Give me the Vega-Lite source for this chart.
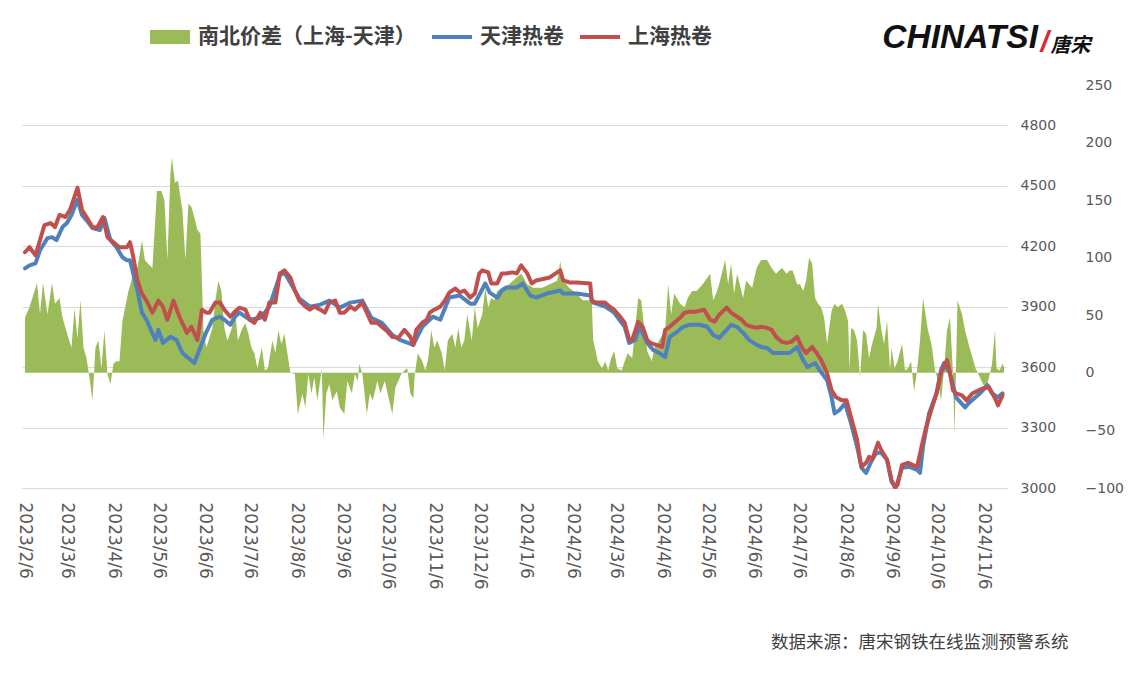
{
"$schema": "https://vega.github.io/schema/vega-lite/v6.json",
"width": 985,
"height": 403,
"autosize": {"type": "none"},
"padding": {"left": 22, "top": 85, "right": 122, "bottom": 188},
"background": "white",
"config": {"view": {"stroke": null}},
"title": {"text": "CHINATSI", "anchor": "end", "orient": "top", "frame": "group", "dx": 31, "dy": 64, "offset": 0, "baseline": "alphabetic", "font": "Liberation Sans", "fontSize": 33.5, "fontWeight": "bold", "fontStyle": "italic", "color": "#111111"},
"datasets": {
"diff": [
{"date":"2023-02-06","diff":48},{"date":"2023-02-09","diff":57},{"date":"2023-02-14","diff":78},{"date":"2023-02-16","diff":51},{"date":"2023-02-18","diff":78},{"date":"2023-02-21","diff":51},{"date":"2023-02-24","diff":78},{"date":"2023-02-26","diff":60},{"date":"2023-03-01","diff":65},{"date":"2023-03-03","diff":48},{"date":"2023-03-07","diff":30},{"date":"2023-03-09","diff":22},{"date":"2023-03-11","diff":56},{"date":"2023-03-13","diff":30},{"date":"2023-03-15","diff":63},{"date":"2023-03-17","diff":22},{"date":"2023-03-19","diff":13},{"date":"2023-03-21","diff":-4},{"date":"2023-03-23","diff":-24},{"date":"2023-03-25","diff":22},{"date":"2023-03-27","diff":28},{"date":"2023-03-29","diff":4},{"date":"2023-03-31","diff":37},{"date":"2023-04-02","diff":-1},{"date":"2023-04-04","diff":-10},{"date":"2023-04-06","diff":8},{"date":"2023-04-08","diff":10},{"date":"2023-04-10","diff":10},{"date":"2023-04-12","diff":45},{"date":"2023-04-16","diff":71},{"date":"2023-04-18","diff":80},{"date":"2023-04-20","diff":98},{"date":"2023-04-22","diff":91},{"date":"2023-04-25","diff":115},{"date":"2023-04-27","diff":98},{"date":"2023-04-29","diff":95},{"date":"2023-05-02","diff":91},{"date":"2023-05-05","diff":158},{"date":"2023-05-08","diff":158},{"date":"2023-05-10","diff":150},{"date":"2023-05-12","diff":98},{"date":"2023-05-14","diff":173},{"date":"2023-05-15","diff":187},{"date":"2023-05-17","diff":165},{"date":"2023-05-19","diff":167},{"date":"2023-05-22","diff":141},{"date":"2023-05-24","diff":98},{"date":"2023-05-26","diff":147},{"date":"2023-05-28","diff":144},{"date":"2023-05-30","diff":135},{"date":"2023-06-01","diff":124},{"date":"2023-06-03","diff":121},{"date":"2023-06-04","diff":80},{"date":"2023-06-05","diff":37},{"date":"2023-06-07","diff":22},{"date":"2023-06-11","diff":39},{"date":"2023-06-13","diff":63},{"date":"2023-06-15","diff":80},{"date":"2023-06-17","diff":71},{"date":"2023-06-19","diff":39},{"date":"2023-06-21","diff":28},{"date":"2023-06-24","diff":39},{"date":"2023-06-26","diff":57},{"date":"2023-06-28","diff":28},{"date":"2023-07-01","diff":39},{"date":"2023-07-03","diff":43},{"date":"2023-07-05","diff":34},{"date":"2023-07-07","diff":22},{"date":"2023-07-09","diff":17},{"date":"2023-07-11","diff":4},{"date":"2023-07-14","diff":22},{"date":"2023-07-16","diff":2},{"date":"2023-07-18","diff":4},{"date":"2023-07-21","diff":28},{"date":"2023-07-23","diff":17},{"date":"2023-07-25","diff":37},{"date":"2023-07-27","diff":25},{"date":"2023-07-29","diff":34},{"date":"2023-07-31","diff":17},{"date":"2023-08-02","diff":0},{"date":"2023-08-05","diff":-1},{"date":"2023-08-07","diff":-36},{"date":"2023-08-10","diff":-18},{"date":"2023-08-12","diff":-30},{"date":"2023-08-14","diff":-1},{"date":"2023-08-16","diff":-18},{"date":"2023-08-18","diff":-4},{"date":"2023-08-20","diff":-24},{"date":"2023-08-23","diff":4},{"date":"2023-08-24","diff":-57},{"date":"2023-08-26","diff":-18},{"date":"2023-08-28","diff":-10},{"date":"2023-08-30","diff":-24},{"date":"2023-09-02","diff":-16},{"date":"2023-09-04","diff":-30},{"date":"2023-09-07","diff":-36},{"date":"2023-09-09","diff":-7},{"date":"2023-09-12","diff":-18},{"date":"2023-09-14","diff":-1},{"date":"2023-09-16","diff":-7},{"date":"2023-09-17","diff":8},{"date":"2023-09-19","diff":-1},{"date":"2023-09-22","diff":-36},{"date":"2023-09-24","diff":-18},{"date":"2023-09-26","diff":-24},{"date":"2023-09-29","diff":-7},{"date":"2023-10-01","diff":-18},{"date":"2023-10-04","diff":-7},{"date":"2023-10-09","diff":-36},{"date":"2023-10-11","diff":-13},{"date":"2023-10-13","diff":-7},{"date":"2023-10-15","diff":-1},{"date":"2023-10-17","diff":2},{"date":"2023-10-19","diff":4},{"date":"2023-10-21","diff":-18},{"date":"2023-10-23","diff":-22},{"date":"2023-10-24","diff":-1},{"date":"2023-10-26","diff":17},{"date":"2023-10-29","diff":10},{"date":"2023-10-31","diff":2},{"date":"2023-11-02","diff":13},{"date":"2023-11-04","diff":37},{"date":"2023-11-06","diff":22},{"date":"2023-11-08","diff":28},{"date":"2023-11-11","diff":17},{"date":"2023-11-13","diff":2},{"date":"2023-11-15","diff":28},{"date":"2023-11-18","diff":34},{"date":"2023-11-20","diff":22},{"date":"2023-11-22","diff":39},{"date":"2023-11-24","diff":22},{"date":"2023-11-26","diff":28},{"date":"2023-11-28","diff":51},{"date":"2023-12-01","diff":28},{"date":"2023-12-03","diff":57},{"date":"2023-12-05","diff":39},{"date":"2023-12-08","diff":51},{"date":"2023-12-10","diff":74},{"date":"2023-12-12","diff":57},{"date":"2023-12-14","diff":65},{"date":"2023-12-16","diff":63},{"date":"2023-12-18","diff":71},{"date":"2023-12-22","diff":74},{"date":"2023-12-26","diff":77},{"date":"2023-12-31","diff":83},{"date":"2024-01-03","diff":86},{"date":"2024-01-07","diff":77},{"date":"2024-01-11","diff":74},{"date":"2024-01-17","diff":74},{"date":"2024-01-22","diff":77},{"date":"2024-01-27","diff":80},{"date":"2024-01-29","diff":97},{"date":"2024-01-31","diff":80},{"date":"2024-02-04","diff":74},{"date":"2024-02-09","diff":69},{"date":"2024-02-13","diff":63},{"date":"2024-02-18","diff":63},{"date":"2024-02-19","diff":63},{"date":"2024-02-20","diff":28},{"date":"2024-02-22","diff":17},{"date":"2024-02-23","diff":10},{"date":"2024-02-26","diff":4},{"date":"2024-02-28","diff":10},{"date":"2024-03-01","diff":2},{"date":"2024-03-03","diff":13},{"date":"2024-03-05","diff":19},{"date":"2024-03-07","diff":4},{"date":"2024-03-10","diff":2},{"date":"2024-03-12","diff":10},{"date":"2024-03-14","diff":17},{"date":"2024-03-17","diff":13},{"date":"2024-03-19","diff":39},{"date":"2024-03-21","diff":65},{"date":"2024-03-23","diff":63},{"date":"2024-03-25","diff":39},{"date":"2024-03-27","diff":19},{"date":"2024-03-30","diff":10},{"date":"2024-04-01","diff":22},{"date":"2024-04-04","diff":28},{"date":"2024-04-08","diff":37},{"date":"2024-04-10","diff":77},{"date":"2024-04-12","diff":51},{"date":"2024-04-14","diff":69},{"date":"2024-04-18","diff":60},{"date":"2024-04-21","diff":57},{"date":"2024-04-23","diff":65},{"date":"2024-04-26","diff":71},{"date":"2024-04-29","diff":71},{"date":"2024-05-03","diff":77},{"date":"2024-05-08","diff":86},{"date":"2024-05-10","diff":63},{"date":"2024-05-12","diff":69},{"date":"2024-05-14","diff":77},{"date":"2024-05-18","diff":98},{"date":"2024-05-20","diff":77},{"date":"2024-05-22","diff":95},{"date":"2024-05-24","diff":69},{"date":"2024-05-26","diff":86},{"date":"2024-05-30","diff":65},{"date":"2024-06-01","diff":80},{"date":"2024-06-05","diff":74},{"date":"2024-06-08","diff":91},{"date":"2024-06-11","diff":98},{"date":"2024-06-15","diff":98},{"date":"2024-06-18","diff":91},{"date":"2024-06-21","diff":86},{"date":"2024-06-23","diff":89},{"date":"2024-06-25","diff":91},{"date":"2024-06-28","diff":86},{"date":"2024-06-30","diff":89},{"date":"2024-07-02","diff":89},{"date":"2024-07-05","diff":77},{"date":"2024-07-07","diff":77},{"date":"2024-07-09","diff":71},{"date":"2024-07-11","diff":80},{"date":"2024-07-13","diff":100},{"date":"2024-07-15","diff":95},{"date":"2024-07-17","diff":65},{"date":"2024-07-19","diff":60},{"date":"2024-07-21","diff":57},{"date":"2024-07-23","diff":48},{"date":"2024-07-25","diff":25},{"date":"2024-07-28","diff":54},{"date":"2024-07-30","diff":60},{"date":"2024-08-01","diff":57},{"date":"2024-08-04","diff":60},{"date":"2024-08-06","diff":54},{"date":"2024-08-08","diff":45},{"date":"2024-08-09","diff":2},{"date":"2024-08-10","diff":39},{"date":"2024-08-12","diff":37},{"date":"2024-08-14","diff":28},{"date":"2024-08-16","diff":-4},{"date":"2024-08-18","diff":37},{"date":"2024-08-20","diff":34},{"date":"2024-08-22","diff":13},{"date":"2024-08-24","diff":25},{"date":"2024-08-27","diff":39},{"date":"2024-08-28","diff":60},{"date":"2024-08-30","diff":39},{"date":"2024-09-01","diff":25},{"date":"2024-09-03","diff":45},{"date":"2024-09-05","diff":2},{"date":"2024-09-06","diff":22},{"date":"2024-09-08","diff":4},{"date":"2024-09-10","diff":10},{"date":"2024-09-13","diff":25},{"date":"2024-09-15","diff":2},{"date":"2024-09-17","diff":4},{"date":"2024-09-19","diff":10},{"date":"2024-09-21","diff":-16},{"date":"2024-09-23","diff":2},{"date":"2024-09-25","diff":28},{"date":"2024-09-27","diff":65},{"date":"2024-09-30","diff":39},{"date":"2024-10-03","diff":22},{"date":"2024-10-05","diff":2},{"date":"2024-10-07","diff":-7},{"date":"2024-10-09","diff":-24},{"date":"2024-10-11","diff":2},{"date":"2024-10-13","diff":37},{"date":"2024-10-15","diff":48},{"date":"2024-10-17","diff":-1},{"date":"2024-10-18","diff":-53},{"date":"2024-10-20","diff":63},{"date":"2024-10-23","diff":51},{"date":"2024-10-25","diff":37},{"date":"2024-10-28","diff":22},{"date":"2024-11-01","diff":4},{"date":"2024-11-04","diff":-4},{"date":"2024-11-06","diff":-10},{"date":"2024-11-08","diff":-13},{"date":"2024-11-10","diff":-4},{"date":"2024-11-12","diff":8},{"date":"2024-11-14","diff":37},{"date":"2024-11-15","diff":4},{"date":"2024-11-17","diff":2},{"date":"2024-11-19","diff":8},{"date":"2024-11-20","diff":5}
],
"tianjin": [
{"date":"2023-02-06","price":4090},{"date":"2023-02-09","price":4105},{"date":"2023-02-13","price":4115},{"date":"2023-02-16","price":4180},{"date":"2023-02-21","price":4240},{"date":"2023-02-24","price":4245},{"date":"2023-02-27","price":4230},{"date":"2023-03-03","price":4295},{"date":"2023-03-06","price":4315},{"date":"2023-03-09","price":4355},{"date":"2023-03-13","price":4430},{"date":"2023-03-16","price":4355},{"date":"2023-03-20","price":4320},{"date":"2023-03-23","price":4290},{"date":"2023-03-28","price":4280},{"date":"2023-03-31","price":4340},{"date":"2023-04-04","price":4230},{"date":"2023-04-08","price":4195},{"date":"2023-04-12","price":4145},{"date":"2023-04-15","price":4130},{"date":"2023-04-17","price":4130},{"date":"2023-04-22","price":3980},{"date":"2023-04-25","price":3870},{"date":"2023-04-28","price":3835},{"date":"2023-05-04","price":3735},{"date":"2023-05-06","price":3785},{"date":"2023-05-09","price":3720},{"date":"2023-05-14","price":3750},{"date":"2023-05-18","price":3735},{"date":"2023-05-22","price":3670},{"date":"2023-05-26","price":3645},{"date":"2023-05-30","price":3620},{"date":"2023-06-03","price":3700},{"date":"2023-06-07","price":3775},{"date":"2023-06-11","price":3835},{"date":"2023-06-16","price":3850},{"date":"2023-06-19","price":3835},{"date":"2023-06-23","price":3810},{"date":"2023-06-26","price":3850},{"date":"2023-06-29","price":3870},{"date":"2023-07-06","price":3835},{"date":"2023-07-13","price":3845},{"date":"2023-07-19","price":3900},{"date":"2023-07-26","price":4055},{"date":"2023-07-29","price":4070},{"date":"2023-08-05","price":3980},{"date":"2023-08-08","price":3940},{"date":"2023-08-15","price":3900},{"date":"2023-08-22","price":3910},{"date":"2023-08-28","price":3930},{"date":"2023-09-04","price":3895},{"date":"2023-09-11","price":3920},{"date":"2023-09-19","price":3930},{"date":"2023-09-25","price":3845},{"date":"2023-10-02","price":3820},{"date":"2023-10-09","price":3760},{"date":"2023-10-14","price":3735},{"date":"2023-10-23","price":3710},{"date":"2023-10-29","price":3800},{"date":"2023-11-05","price":3850},{"date":"2023-11-10","price":3835},{"date":"2023-11-16","price":3945},{"date":"2023-11-23","price":3955},{"date":"2023-11-30","price":3915},{"date":"2023-12-03","price":3915},{"date":"2023-12-10","price":4015},{"date":"2023-12-13","price":3970},{"date":"2023-12-18","price":3945},{"date":"2023-12-21","price":3980},{"date":"2023-12-24","price":3995},{"date":"2023-12-31","price":3995},{"date":"2024-01-04","price":4015},{"date":"2024-01-09","price":3955},{"date":"2024-01-13","price":3945},{"date":"2024-01-20","price":3965},{"date":"2024-01-29","price":3980},{"date":"2024-01-31","price":3965},{"date":"2024-02-09","price":3965},{"date":"2024-02-18","price":3955},{"date":"2024-02-20","price":3920},{"date":"2024-02-28","price":3900},{"date":"2024-03-05","price":3870},{"date":"2024-03-12","price":3800},{"date":"2024-03-15","price":3720},{"date":"2024-03-19","price":3735},{"date":"2024-03-22","price":3800},{"date":"2024-03-27","price":3720},{"date":"2024-03-31","price":3685},{"date":"2024-04-04","price":3670},{"date":"2024-04-08","price":3650},{"date":"2024-04-11","price":3750},{"date":"2024-04-16","price":3775},{"date":"2024-04-20","price":3800},{"date":"2024-04-24","price":3810},{"date":"2024-05-01","price":3810},{"date":"2024-05-06","price":3800},{"date":"2024-05-10","price":3760},{"date":"2024-05-14","price":3745},{"date":"2024-05-19","price":3785},{"date":"2024-05-22","price":3810},{"date":"2024-05-26","price":3800},{"date":"2024-05-30","price":3770},{"date":"2024-06-03","price":3735},{"date":"2024-06-08","price":3710},{"date":"2024-06-11","price":3700},{"date":"2024-06-15","price":3695},{"date":"2024-06-19","price":3670},{"date":"2024-06-23","price":3670},{"date":"2024-06-30","price":3670},{"date":"2024-07-05","price":3700},{"date":"2024-07-09","price":3635},{"date":"2024-07-12","price":3600},{"date":"2024-07-17","price":3620},{"date":"2024-07-20","price":3585},{"date":"2024-07-25","price":3535},{"date":"2024-07-28","price":3450},{"date":"2024-07-30","price":3370},{"date":"2024-08-02","price":3385},{"date":"2024-08-06","price":3420},{"date":"2024-08-10","price":3320},{"date":"2024-08-14","price":3205},{"date":"2024-08-17","price":3100},{"date":"2024-08-20","price":3075},{"date":"2024-08-24","price":3140},{"date":"2024-08-27","price":3175},{"date":"2024-08-30","price":3175},{"date":"2024-09-03","price":3140},{"date":"2024-09-06","price":3030},{"date":"2024-09-09","price":3005},{"date":"2024-09-13","price":3100},{"date":"2024-09-18","price":3105},{"date":"2024-09-23","price":3090},{"date":"2024-09-25","price":3075},{"date":"2024-09-27","price":3205},{"date":"2024-10-01","price":3370},{"date":"2024-10-06","price":3470},{"date":"2024-10-09","price":3585},{"date":"2024-10-11","price":3620},{"date":"2024-10-15","price":3570},{"date":"2024-10-19","price":3450},{"date":"2024-10-25","price":3400},{"date":"2024-10-28","price":3425},{"date":"2024-11-04","price":3470},{"date":"2024-11-09","price":3510},{"date":"2024-11-12","price":3470},{"date":"2024-11-16","price":3450},{"date":"2024-11-19","price":3470}
],
"shanghai": [
{"date":"2023-02-06","price":4170},{"date":"2023-02-09","price":4195},{"date":"2023-02-13","price":4155},{"date":"2023-02-16","price":4230},{"date":"2023-02-19","price":4305},{"date":"2023-02-23","price":4315},{"date":"2023-02-26","price":4295},{"date":"2023-03-01","price":4355},{"date":"2023-03-05","price":4345},{"date":"2023-03-08","price":4380},{"date":"2023-03-11","price":4445},{"date":"2023-03-13","price":4490},{"date":"2023-03-16","price":4380},{"date":"2023-03-19","price":4345},{"date":"2023-03-23","price":4295},{"date":"2023-03-26","price":4290},{"date":"2023-03-30","price":4345},{"date":"2023-04-02","price":4245},{"date":"2023-04-06","price":4220},{"date":"2023-04-10","price":4195},{"date":"2023-04-15","price":4195},{"date":"2023-04-17","price":4220},{"date":"2023-04-19","price":4155},{"date":"2023-04-22","price":4030},{"date":"2023-04-25","price":3965},{"date":"2023-04-28","price":3930},{"date":"2023-05-02","price":3870},{"date":"2023-05-06","price":3930},{"date":"2023-05-09","price":3900},{"date":"2023-05-12","price":3835},{"date":"2023-05-16","price":3930},{"date":"2023-05-20","price":3850},{"date":"2023-05-25","price":3770},{"date":"2023-05-28","price":3800},{"date":"2023-06-01","price":3735},{"date":"2023-06-04","price":3885},{"date":"2023-06-07","price":3870},{"date":"2023-06-09","price":3870},{"date":"2023-06-13","price":3920},{"date":"2023-06-16","price":3920},{"date":"2023-06-19","price":3885},{"date":"2023-06-23","price":3850},{"date":"2023-06-26","price":3875},{"date":"2023-06-29","price":3895},{"date":"2023-07-03","price":3885},{"date":"2023-07-06","price":3835},{"date":"2023-07-09","price":3820},{"date":"2023-07-13","price":3870},{"date":"2023-07-16","price":3835},{"date":"2023-07-19","price":3920},{"date":"2023-07-23","price":3920},{"date":"2023-07-26","price":4065},{"date":"2023-07-29","price":4080},{"date":"2023-08-02","price":4045},{"date":"2023-08-05","price":3980},{"date":"2023-08-08","price":3930},{"date":"2023-08-12","price":3900},{"date":"2023-08-15","price":3885},{"date":"2023-08-18","price":3900},{"date":"2023-08-22","price":3885},{"date":"2023-08-25","price":3870},{"date":"2023-08-28","price":3920},{"date":"2023-09-01","price":3930},{"date":"2023-09-04","price":3870},{"date":"2023-09-07","price":3870},{"date":"2023-09-11","price":3900},{"date":"2023-09-14","price":3885},{"date":"2023-09-19","price":3920},{"date":"2023-09-22","price":3870},{"date":"2023-09-25","price":3820},{"date":"2023-09-29","price":3820},{"date":"2023-10-02","price":3800},{"date":"2023-10-06","price":3775},{"date":"2023-10-09","price":3750},{"date":"2023-10-13","price":3745},{"date":"2023-10-17","price":3785},{"date":"2023-10-21","price":3750},{"date":"2023-10-23","price":3710},{"date":"2023-10-25","price":3785},{"date":"2023-10-29","price":3820},{"date":"2023-11-01","price":3835},{"date":"2023-11-03","price":3870},{"date":"2023-11-06","price":3885},{"date":"2023-11-10","price":3900},{"date":"2023-11-13","price":3930},{"date":"2023-11-16","price":3970},{"date":"2023-11-20","price":3990},{"date":"2023-11-23","price":3970},{"date":"2023-11-26","price":3980},{"date":"2023-11-30","price":3945},{"date":"2023-12-03","price":3965},{"date":"2023-12-06","price":4065},{"date":"2023-12-08","price":4080},{"date":"2023-12-12","price":4070},{"date":"2023-12-14","price":4015},{"date":"2023-12-18","price":4015},{"date":"2023-12-21","price":4065},{"date":"2023-12-24","price":4065},{"date":"2023-12-28","price":4070},{"date":"2023-12-31","price":4065},{"date":"2024-01-03","price":4105},{"date":"2024-01-07","price":4065},{"date":"2024-01-10","price":4015},{"date":"2024-01-13","price":4030},{"date":"2024-01-22","price":4045},{"date":"2024-01-29","price":4080},{"date":"2024-01-31","price":4030},{"date":"2024-02-04","price":4020},{"date":"2024-02-09","price":4020},{"date":"2024-02-18","price":4015},{"date":"2024-02-19","price":3930},{"date":"2024-02-22","price":3920},{"date":"2024-02-28","price":3920},{"date":"2024-03-02","price":3900},{"date":"2024-03-05","price":3885},{"date":"2024-03-09","price":3850},{"date":"2024-03-12","price":3820},{"date":"2024-03-15","price":3735},{"date":"2024-03-17","price":3735},{"date":"2024-03-21","price":3825},{"date":"2024-03-24","price":3800},{"date":"2024-03-27","price":3735},{"date":"2024-03-29","price":3720},{"date":"2024-04-02","price":3710},{"date":"2024-04-06","price":3700},{"date":"2024-04-08","price":3785},{"date":"2024-04-11","price":3800},{"date":"2024-04-14","price":3820},{"date":"2024-04-18","price":3845},{"date":"2024-04-21","price":3870},{"date":"2024-04-24","price":3875},{"date":"2024-04-28","price":3875},{"date":"2024-05-01","price":3880},{"date":"2024-05-04","price":3885},{"date":"2024-05-08","price":3835},{"date":"2024-05-11","price":3825},{"date":"2024-05-14","price":3860},{"date":"2024-05-19","price":3895},{"date":"2024-05-22","price":3870},{"date":"2024-05-26","price":3850},{"date":"2024-05-29","price":3835},{"date":"2024-06-01","price":3810},{"date":"2024-06-05","price":3800},{"date":"2024-06-08","price":3795},{"date":"2024-06-11","price":3800},{"date":"2024-06-15","price":3795},{"date":"2024-06-18","price":3785},{"date":"2024-06-21","price":3750},{"date":"2024-06-25","price":3725},{"date":"2024-06-28","price":3720},{"date":"2024-07-01","price":3725},{"date":"2024-07-05","price":3750},{"date":"2024-07-08","price":3700},{"date":"2024-07-11","price":3670},{"date":"2024-07-15","price":3700},{"date":"2024-07-18","price":3670},{"date":"2024-07-21","price":3635},{"date":"2024-07-25","price":3570},{"date":"2024-07-28","price":3485},{"date":"2024-07-31","price":3450},{"date":"2024-08-04","price":3435},{"date":"2024-08-07","price":3435},{"date":"2024-08-10","price":3350},{"date":"2024-08-14","price":3240},{"date":"2024-08-16","price":3140},{"date":"2024-08-17","price":3105},{"date":"2024-08-20","price":3125},{"date":"2024-08-22","price":3155},{"date":"2024-08-24","price":3140},{"date":"2024-08-28","price":3225},{"date":"2024-08-30","price":3190},{"date":"2024-09-01","price":3165},{"date":"2024-09-03","price":3140},{"date":"2024-09-06","price":3040},{"date":"2024-09-08","price":3005},{"date":"2024-09-10","price":3015},{"date":"2024-09-13","price":3115},{"date":"2024-09-17","price":3125},{"date":"2024-09-20","price":3115},{"date":"2024-09-23","price":3105},{"date":"2024-09-26","price":3205},{"date":"2024-09-29","price":3300},{"date":"2024-10-03","price":3400},{"date":"2024-10-06","price":3470},{"date":"2024-10-09","price":3570},{"date":"2024-10-13","price":3635},{"date":"2024-10-15","price":3570},{"date":"2024-10-17","price":3485},{"date":"2024-10-19","price":3470},{"date":"2024-10-23","price":3460},{"date":"2024-10-26","price":3435},{"date":"2024-10-30","price":3470},{"date":"2024-11-06","price":3495},{"date":"2024-11-10","price":3500},{"date":"2024-11-14","price":3445},{"date":"2024-11-16","price":3410},{"date":"2024-11-19","price":3460}
]
},
"resolve": {"scale": {"y": "independent"}},
"layer": [
{
"data": {"name": "diff"},
"mark": {"type": "area", "color": "#9BBB59", "interpolate": "linear"},
"encoding": {
"x": {"field": "date", "type": "temporal",
 "scale": {"type": "utc", "domain": [{"year": 2023, "month": 2, "date": 4, "utc": true}, {"year": 2024, "month": 11, "date": 22, "utc": true}]},
 "axis": {"orient": "bottom", "labelExpr": "utcFormat(datum.value, '%Y/%-m/%-d')",
  "values": [{"year":2023,"month":2,"date":6,"utc":true},{"year":2023,"month":3,"date":6,"utc":true},{"year":2023,"month":4,"date":6,"utc":true},{"year":2023,"month":5,"date":6,"utc":true},{"year":2023,"month":6,"date":6,"utc":true},{"year":2023,"month":7,"date":6,"utc":true},{"year":2023,"month":8,"date":6,"utc":true},{"year":2023,"month":9,"date":6,"utc":true},{"year":2023,"month":10,"date":6,"utc":true},{"year":2023,"month":11,"date":6,"utc":true},{"year":2023,"month":12,"date":6,"utc":true},{"year":2024,"month":1,"date":6,"utc":true},{"year":2024,"month":2,"date":6,"utc":true},{"year":2024,"month":3,"date":6,"utc":true},{"year":2024,"month":4,"date":6,"utc":true},{"year":2024,"month":5,"date":6,"utc":true},{"year":2024,"month":6,"date":6,"utc":true},{"year":2024,"month":7,"date":6,"utc":true},{"year":2024,"month":8,"date":6,"utc":true},{"year":2024,"month":9,"date":6,"utc":true},{"year":2024,"month":10,"date":6,"utc":true},{"year":2024,"month":11,"date":6,"utc":true}],
  "labelAngle": 90, "labelAlign": "left", "labelBaseline": "middle", "labelPadding": 14,
  "labelFont": "DejaVu Sans", "labelFontSize": 17, "labelColor": "#595959",
  "labelOverlap": false, "labelFlush": false, "ticks": false, "grid": false,
  "domain": true, "domainColor": "#d9d9d9", "domainWidth": 1,
  "title": "数据来源：唐宋钢铁在线监测预警系统", "titleX": 1046, "titleY": 154, "titleAlign": "right", "titleBaseline": "middle", "titleAngle": 0,
  "titleFont": "Noto Sans CJK SC", "titleFontSize": 17.5, "titleFontWeight": "normal", "titleColor": "#404040"}},
"y": {"field": "diff", "type": "quantitative",
 "scale": {"domain": [-100, 250], "nice": false, "zero": true},
 "axis": {"orient": "right", "offset": 63, "values": [-100, -50, 0, 50, 100, 150, 200, 250], "format": "d", "grid": false, "domain": false, "ticks": false, "labelPadding": 15,
  "labelFont": "DejaVu Sans", "labelFontSize": 14, "labelColor": "#595959",
  "title": "唐宋", "titleAngle": 0, "titleX": -20, "titleY": -34, "titleAlign": "left", "titleBaseline": "alphabetic",
  "titleFont": "Noto Sans CJK SC", "titleFontSize": 20, "titleFontWeight": "bold", "titleFontStyle": "italic", "titleColor": "#111111"}},
"color": {"datum": "南北价差（上海-天津）",
 "scale": {"domain": ["南北价差（上海-天津）", "天津热卷", "上海热卷"], "range": ["#9BBB59", "#4F81BD", "#C0504D"]},
 "legend": {"orient": "none", "legendX": 128, "legendY": -68, "direction": "horizontal", "title": null,
  "symbolType": "M-1,-0.1H1V0.1H-1Z", "symbolSize": 1600, "symbolStrokeWidth": 0,
  "labelFont": "Noto Sans CJK SC", "labelFontSize": 21, "labelFontWeight": "bold", "labelColor": "#404040", "labelOffset": 8, "labelLimit": 500, "columnPadding": 16,
  "encode": {"symbols": {"update": {"fill": {"scale": "color", "field": "value"}, "fillOpacity": {"value": 1}, "strokeWidth": {"value": 0}, "shape": {"signal": "datum.value === '南北价差（上海-天津）' ? 'M-1,-0.35H1V0.35H-1Z' : 'M-1,-0.1H1V0.1H-1Z'"}}}}}}
}
},
{
"layer": [
{
"data": {"name": "tianjin"},
"mark": {"type": "line", "strokeWidth": 4, "strokeJoin": "round", "strokeCap": "round"},
"encoding": {
"x": {"field": "date", "type": "temporal"},
"y": {"field": "price", "type": "quantitative",
 "scale": {"domain": [3000, 5000], "nice": false, "zero": false},
 "axis": {"orient": "right", "values": [3000, 3300, 3600, 3900, 4200, 4500, 4800], "format": "d", "grid": true, "gridColor": "#d9d9d9", "gridWidth": 1, "domain": false, "ticks": false, "labelPadding": 13,
  "labelFont": "DejaVu Sans", "labelFontSize": 14, "labelColor": "#595959",
  "title": "/", "titleAngle": 0, "titleX": 33, "titleY": -34, "titleAlign": "left", "titleBaseline": "alphabetic",
  "titleFont": "Liberation Sans", "titleFontSize": 30, "titleFontWeight": "bold", "titleFontStyle": "italic", "titleColor": "#d9282f"}},
"color": {"datum": "天津热卷"}
}
},
{
"data": {"name": "shanghai"},
"mark": {"type": "line", "strokeWidth": 4, "strokeJoin": "round", "strokeCap": "round"},
"encoding": {
"x": {"field": "date", "type": "temporal"},
"y": {"field": "price", "type": "quantitative"},
"color": {"datum": "上海热卷"}
}
}
]
}
]
}
